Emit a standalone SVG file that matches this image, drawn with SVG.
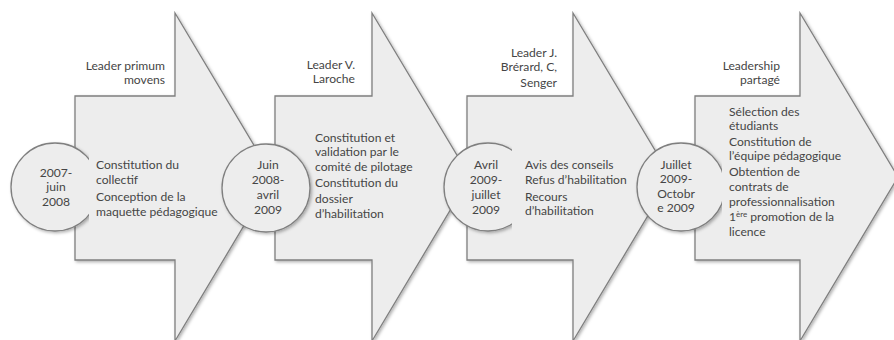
<svg xmlns="http://www.w3.org/2000/svg" width="894" height="340" viewBox="0 0 894 340">
<defs>
<filter id="sh" x="-10%" y="-10%" width="130%" height="130%">
<feDropShadow dx="1.5" dy="1.5" stdDeviation="1.5" flood-color="#000" flood-opacity="0.3"/>
</filter>
<style>
.arrow{fill:#ededed;stroke:#7f7f7f;stroke-width:1.3;filter:url(#sh)}
.circ{fill:#ededed;stroke:#7f7f7f;stroke-width:1.3;filter:url(#sh)}
.cover{fill:#ededed;stroke:none}
text{font-family:Lato,"Liberation Sans",sans-serif;font-size:12.1px;fill:#454545}
.c{text-anchor:middle}
.r{text-anchor:end}
.sup{font-size:8px}
</style>
</defs>
<rect width="894" height="340" fill="#fff"/>
<g id="connectors"></g>
<g id="arrow1">
<path class="arrow" d="M75,96 H175 V13 L273,177 L175,341 V260 H75 Z"/>
</g>
<g id="arrow2">
<path class="arrow" d="M275,96 H372 V13 L470,177 L372,341 V260 H275 Z"/>
</g>
<g id="arrow3">
<path class="arrow" d="M467,96 H573 V13 L671,177 L573,341 V260 H467 Z"/>
</g>
<g id="arrow4">
<path class="arrow" d="M695,96 H800 V13 L898,177 L800,341 V260 H695 Z"/>
</g>
<g id="circle1">
<circle class="circ" cx="55" cy="187" r="44"/>
<rect class="cover" x="89" y="135" width="86" height="105"/>
<text class="c" x="56"><tspan x="56" y="177">2007-</tspan><tspan x="56" y="191">juin</tspan><tspan x="56" y="206">2008</tspan></text>
</g>
<g id="circle2">
<circle class="circ" cx="266" cy="188" r="44"/>
<text class="c"><tspan x="268" y="169">Juin</tspan><tspan x="268" y="184">2008-</tspan><tspan x="268" y="199">avril</tspan><tspan x="268" y="214">2009</tspan></text>
</g>
<g id="circle3">
<circle class="circ" cx="488" cy="187" r="44"/>
<rect class="cover" x="512" y="135" width="61" height="105"/>
<text class="c"><tspan x="486" y="169">Avril</tspan><tspan x="486" y="184">2009-</tspan><tspan x="486" y="199">juillet</tspan><tspan x="486" y="214">2009</tspan></text>
</g>
<g id="circle4">
<circle class="circ" cx="681" cy="187" r="44"/>
<rect class="cover" x="722" y="135" width="78" height="105"/>
<text class="c"><tspan x="676" y="169">Juillet</tspan><tspan x="676" y="183">2009-</tspan><tspan x="676" y="198">Octobr</tspan><tspan x="676" y="212">e 2009</tspan></text>
</g>
<g id="label1">
<text class="r"><tspan x="165" y="70">Leader primum</tspan><tspan x="165" y="84">movens</tspan></text>
<text><tspan x="96" y="169">Constitution du</tspan><tspan x="96" y="184">collectif</tspan><tspan x="96" y="201">Conception de la</tspan><tspan x="96" y="216">maquette pédagogique</tspan></text>
</g>
<g id="label2">
<text class="r"><tspan x="355" y="69">Leader V.</tspan><tspan x="355" y="83">Laroche</tspan></text>
<text><tspan x="315" y="142">Constitution et</tspan><tspan x="315" y="156">validation par le</tspan><tspan x="315" y="171">comité de pilotage</tspan><tspan x="315" y="187">Constitution du</tspan><tspan x="315" y="203">dossier</tspan><tspan x="315" y="218">d’habilitation</tspan></text>
</g>
<g id="label3">
<text class="r"><tspan x="557" y="57">Leader J.</tspan><tspan x="557" y="71">Brérard, C,</tspan><tspan x="557" y="87">Senger</tspan></text>
<text><tspan x="525" y="169">Avis des conseils</tspan><tspan x="525" y="184">Refus d’habilitation</tspan><tspan x="525" y="201">Recours</tspan><tspan x="525" y="215">d’habilitation</tspan></text>
</g>
<g id="label4">
<text class="r"><tspan x="780" y="70">Leadership</tspan><tspan x="780" y="84">partagé</tspan></text>
<text><tspan x="729" y="116">Sélection des</tspan><tspan x="729" y="130">étudiants</tspan><tspan x="729" y="146">Constitution de</tspan><tspan x="729" y="160">l’équipe pédagogique</tspan><tspan x="729" y="176">Obtention de</tspan><tspan x="729" y="191">contrats de</tspan><tspan x="729" y="206">professionnalisation</tspan><tspan x="729" y="221">1<tspan class="sup" dy="-4">ère</tspan><tspan dy="4"> promotion de la</tspan></tspan><tspan x="729" y="236">licence</tspan></text>
</g>
</svg>
